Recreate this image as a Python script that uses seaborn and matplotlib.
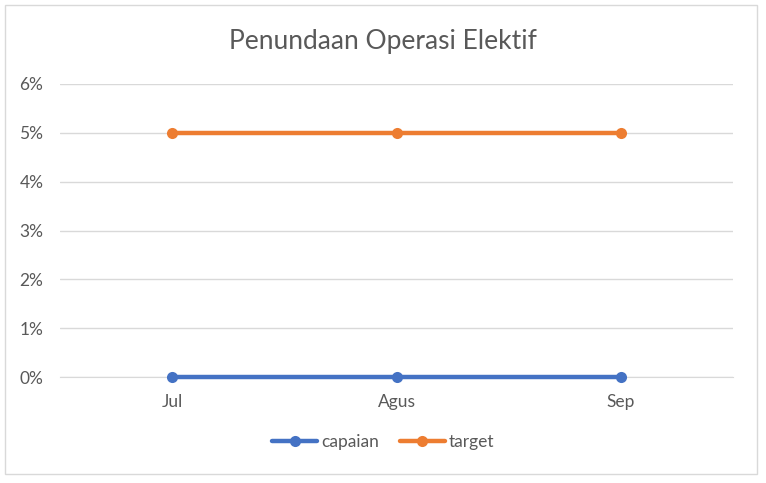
import matplotlib
matplotlib.use("Agg")
import matplotlib.pyplot as plt
import seaborn as sns
import pandas as pd
from matplotlib.patches import Rectangle
from matplotlib.ticker import PercentFormatter

months = ["Jul", "Agus", "Sep"]
capaian = [0.0, 0.0, 0.0]
target = [0.05, 0.05, 0.05]

df = pd.DataFrame({
    "bulan": months * 2,
    "nilai": capaian + target,
    "seri": ["capaian"] * 3 + ["target"] * 3,
})

sns.set_style("white")
plt.rcParams["font.family"] = ["Lato", "DejaVu Sans"]

fig = plt.figure(figsize=(7.66, 4.83), dpi=100)
ax = fig.add_axes([60 / 766, 1 - 377 / 483, 673 / 766, 293 / 483])

sns.lineplot(data=df, x="bulan", y="nilai", hue="seri",
             palette={"capaian": "#4472C4", "target": "#ED7D31"},
             marker="o", markersize=8, markeredgewidth=0,
             linewidth=3.2, sort=False, ax=ax)
for line in ax.lines:
    line.set_clip_on(False)
    line.set_zorder(3)

ax.set_xlim(-0.5, 2.5)
ax.set_ylim(0, 0.06)
ax.set_yticks([0, 0.01, 0.02, 0.03, 0.04, 0.05, 0.06])
ax.yaxis.set_major_formatter(PercentFormatter(1.0, decimals=0))
ax.grid(axis="y", color="#D9D9D9", linewidth=1)
ax.set_axisbelow(True)
for s in ax.spines.values():
    s.set_visible(False)
ax.spines["bottom"].set_visible(True)
ax.spines["bottom"].set_color("#D9D9D9")
ax.tick_params(axis="both", length=0, labelsize=12.5, colors="#595959")
ax.tick_params(axis="y", pad=12)
ax.tick_params(axis="x", pad=12)
ax.set_xlabel("")
ax.set_ylabel("")

fig.text(0.5, 1 - 42 / 483, "Penundaan Operasi Elektif", ha="center", va="center",
         fontsize=19, color="#595959")

handles, labels = ax.get_legend_handles_labels()
ax.legend(handles, labels, loc="center", bbox_to_anchor=(0.5, 1 - 442 / 483),
          bbox_transform=fig.transFigure, ncol=2, frameon=False,
          fontsize=12.5, labelcolor="#595959", handlelength=2.6,
          columnspacing=1.2, handletextpad=0.2)

fig.patches.append(Rectangle((5 / 766, 1 - 474 / 483), 752 / 766, 469 / 483,
                             transform=fig.transFigure, fill=False,
                             edgecolor="#D9D9D9", linewidth=1))

fig.savefig("out.png", dpi=100)
